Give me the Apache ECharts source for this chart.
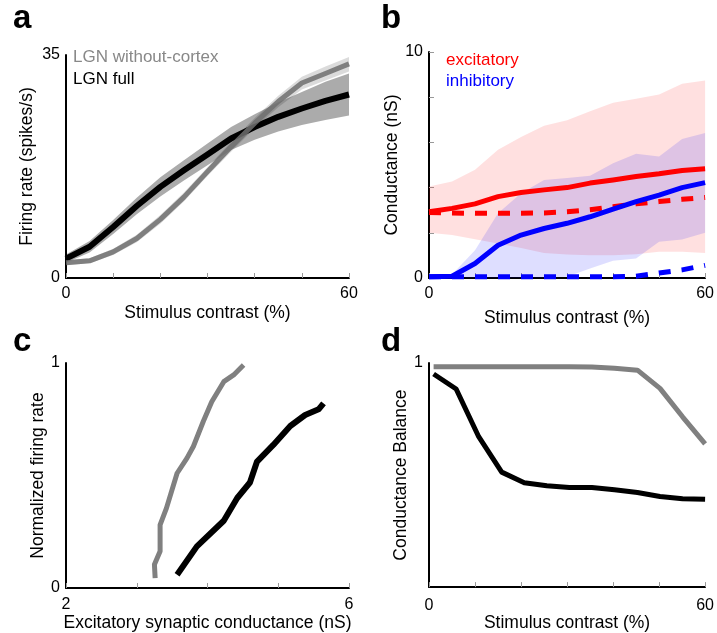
<!DOCTYPE html>
<html>
<head>
<meta charset="utf-8">
<script src="https://cdn.jsdelivr.net/npm/echarts@6/dist/echarts.min.js"></script>
<style>
  html, body { margin: 0; padding: 0; background: #fff; }
  #chart { width: 717px; height: 633px; }
</style>
</head>
<body>
<div id="chart"></div>
<script>
// contrast steps (%) used in panels a, b
const contrast = [0, 5, 10, 15, 20, 25, 30, 35, 40, 45, 50, 55, 60];
// panel d contrast steps
const contrastD = [1, 5.9, 10.8, 15.8, 20.7, 25.6, 30.5, 35.4, 40.3, 45.3, 50.2, 55.1, 60];

// panel a: firing rate (spikes/s)
const rateFull = [3.05, 4.9, 8.0, 11.3, 14.3, 16.9, 19.4, 21.9, 23.7, 25.3, 26.6, 27.8, 28.8];
const rateFullLo = [2.4, 4.0, 6.9, 10.0, 12.8, 15.3, 17.7, 20.1, 21.7, 23.0, 24.0, 24.8, 25.5];
const rateFullHi = [3.7, 5.8, 9.1, 12.6, 15.8, 18.5, 21.1, 23.7, 25.7, 27.6, 29.2, 30.8, 32.1];
const rateNoCtx = [2.4, 2.7, 4.1, 6.2, 9.2, 12.7, 16.7, 20.6, 24.3, 27.7, 30.6, 32.1, 33.6];
const rateNoCtxLo = [2.0, 2.3, 3.6, 5.6, 8.5, 12.0, 16.0, 19.8, 23.5, 26.8, 29.6, 31.0, 32.4];
const rateNoCtxHi = [2.8, 3.1, 4.6, 6.8, 9.9, 13.4, 17.4, 21.4, 25.1, 28.6, 31.6, 33.2, 34.7];

// panel b: conductance (nS)
const excFull = [2.93, 3.08, 3.28, 3.6, 3.78, 3.9, 4.0, 4.2, 4.34, 4.49, 4.61, 4.76, 4.83];
const excNoCtx = [2.9, 2.88, 2.86, 2.86, 2.87, 2.88, 2.93, 3.02, 3.15, 3.28, 3.38, 3.48, 3.56];
const excLo = [2.0, 1.9, 1.72, 1.53, 1.33, 1.11, 1.04, 1.01, 1.01, 1.05, 1.16, 1.16, 1.11];
const excHi = [4.05, 4.27, 4.79, 5.68, 6.24, 6.74, 6.98, 7.38, 7.75, 7.93, 8.12, 8.6, 8.74];
const inhFull = [0.05, 0.08, 0.64, 1.45, 1.9, 2.19, 2.42, 2.71, 3.05, 3.38, 3.67, 4.0, 4.22];
const inhNoCtx = [0.05, 0.05, 0.05, 0.05, 0.05, 0.05, 0.05, 0.05, 0.05, 0.08, 0.22, 0.36, 0.56];
const inhLo = [0, 0, 0, 0, 0, 0, 0.05, 0.42, 0.76, 0.86, 1.6, 1.7, 2.0];
const inhHi = [0, 0.15, 1.23, 2.86, 3.75, 4.34, 4.42, 4.52, 5.08, 5.5, 5.38, 6.15, 6.42];

// panel c: excitatory conductance (nS) vs normalized firing rate
const gNoCtx = [3.26, 3.25, 3.33, 3.33, 3.42, 3.57, 3.71, 3.80, 3.94, 4.06, 4.23, 4.37, 4.51];
const frNoCtx = [0.044, 0.104, 0.163, 0.281, 0.355, 0.51, 0.577, 0.629, 0.74, 0.828, 0.917, 0.947, 0.991];
const gFull = [3.57, 3.85, 4.23, 4.42, 4.60, 4.70, 4.93, 5.17, 5.38, 5.57, 5.64];
const frFull = [0.059, 0.185, 0.299, 0.40, 0.469, 0.562, 0.636, 0.72, 0.769, 0.794, 0.821];

// panel d: conductance balance
const balNoCtx = [0.983, 0.983, 0.983, 0.983, 0.983, 0.983, 0.983, 0.982, 0.977, 0.968, 0.887, 0.76, 0.639];
const balFull = [0.951, 0.884, 0.671, 0.513, 0.466, 0.452, 0.444, 0.444, 0.434, 0.422, 0.404, 0.394, 0.392];

const FONT = 'Liberation Sans';
const pairs = (xs, ys) => xs.map((x, i) => [x, ys[i]]);

// shaded band between lo and hi, drawn as one polygon through the axis scales
function band(idx, xs, lo, hi, color) {
  return {
    type: 'custom', xAxisIndex: idx, yAxisIndex: idx, silent: true, z: 1,
    data: xs.map((x, i) => [x, lo[i], hi[i]]),
    encode: { x: 0, y: [1, 2] },
    renderItem: (params, api) => {
      if (params.dataIndex !== 0) return;
      const top = xs.map((x, i) => api.coord([x, hi[i]]));
      const bot = xs.map((x, i) => api.coord([x, lo[i]])).reverse();
      return { type: 'polygon', shape: { points: top.concat(bot) }, style: { fill: color } };
    }
  };
}

function line(idx, xs, ys, color, width, dashed) {
  return {
    type: 'line', xAxisIndex: idx, yAxisIndex: idx, symbol: 'none', silent: true,
    data: pairs(xs, ys), z: 3,
    lineStyle: { color: color, width: width, type: dashed ? [12, 11] : 'solid', cap: 'butt', join: 'round' }
  };
}

function xAx(idx, min, max, interval, ends, name, gap, margin) {
  return {
    gridIndex: idx, type: 'value', min: min, max: max, interval: interval,
    name: name, nameLocation: 'middle', nameGap: gap,
    nameTextStyle: { fontFamily: FONT, fontSize: 17.5, color: '#000' },
    axisLine: { lineStyle: { color: '#000', width: 2 } },
    axisTick: { show: true, inside: true, length: 5, lineStyle: { color: '#999', width: 1 } },
    axisLabel: { margin: margin, fontFamily: FONT, fontSize: 16, color: '#000',
      formatter: v => ends.includes(v) ? String(v) : '' },
    splitLine: { show: false }
  };
}

function yAx(idx, min, max, interval, ends, name, gap, ticks) {
  return {
    gridIndex: idx, type: 'value', min: min, max: max, interval: interval,
    name: name, nameLocation: 'middle', nameGap: gap,
    nameTextStyle: { fontFamily: FONT, fontSize: 17.5, color: '#000' },
    axisLine: { show: true, lineStyle: { color: '#000', width: 2 } },
    axisTick: { show: ticks, inside: true, length: 5, lineStyle: { color: '#999', width: 1 } },
    axisLabel: { margin: 6, fontFamily: FONT, fontSize: 16, color: '#000',
      formatter: v => ends.includes(v) ? String(v) : '' },
    splitLine: { show: false }
  };
}

function txt(left, top, text, size, color, bold) {
  return { type: 'text', left: left, top: top,
    style: { text: text, fill: color, font: (bold ? 'bold ' : '') + size + 'px "' + FONT + '"' } };
}

const chart = echarts.init(document.getElementById('chart'));
chart.setOption({
  animation: false,
  backgroundColor: '#fff',
  grid: [
    { left: 66, right: 368, top: 55, bottom: 355 },
    { left: 429, right: 5, top: 52, bottom: 355 },
    { left: 66, right: 368, top: 363, bottom: 45 },
    { left: 429, right: 5, top: 363, bottom: 45 }
  ],
  xAxis: [
    xAx(0, 0, 60, 10, [0, 60], 'Stimulus contrast (%)', 26, 8),
    xAx(1, 0, 60, 10, [0, 60], 'Stimulus contrast (%)', 31, 8),
    xAx(2, 2, 6, 1, [2, 6], 'Excitatory synaptic conductance (nS)', 26, 9),
    xAx(3, 0, 60, 10, [0, 60], 'Stimulus contrast (%)', 26, 10)
  ],
  yAxis: [
    yAx(0, 0, 35, 35, [0, 35], 'Firing rate (spikes/s)', 30, false),
    yAx(1, 0, 10, 2, [0, 10], 'Conductance (nS)', 27, true),
    yAx(2, 0, 1, 1, [0, 1], 'Normalized firing rate', 17, false),
    yAx(3, 0, 1, 1, [1], 'Conductance Balance', 15, false)
  ],
  graphic: [
    txt(13, 2, 'a', 33, '#000', true),
    txt(381, 2, 'b', 33, '#000', true),
    txt(13, 325, 'c', 33, '#000', true),
    txt(381, 325, 'd', 33, '#000', true),
    txt(73, 49, 'LGN without-cortex', 17, '#888', false),
    txt(73, 71, 'LGN full', 17, '#000', false),
    txt(446, 52, 'excitatory', 17, '#ff0000', false),
    txt(446, 73, 'inhibitory', 17, '#0000ff', false)
  ],
  series: [
    // a
    band(0, contrast, rateFullLo, rateFullHi, 'rgba(0,0,0,0.33)'),
    band(0, contrast, rateNoCtxLo, rateNoCtxHi, 'rgba(0,0,0,0.14)'),
    line(0, contrast, rateFull, '#000', 6, false),
    line(0, contrast, rateNoCtx, 'rgba(110,110,110,0.85)', 5, false),
    // b
    band(1, contrast, excLo, excHi, 'rgba(255,0,0,0.12)'),
    band(1, contrast, inhLo, inhHi, 'rgba(0,0,255,0.13)'),
    line(1, contrast, excFull, '#ff0000', 5, false),
    line(1, contrast, excNoCtx, '#ff0000', 5, true),
    line(1, contrast, inhFull, '#0000ff', 5, false),
    line(1, contrast, inhNoCtx, '#0000ff', 5, true),
    // c
    line(2, gNoCtx, frNoCtx, '#808080', 5, false),
    line(2, gFull, frFull, '#000', 6, false),
    // d
    line(3, contrastD, balNoCtx, '#808080', 5, false),
    line(3, contrastD, balFull, '#000', 5, false)
  ]
});
</script>
</body>
</html>
